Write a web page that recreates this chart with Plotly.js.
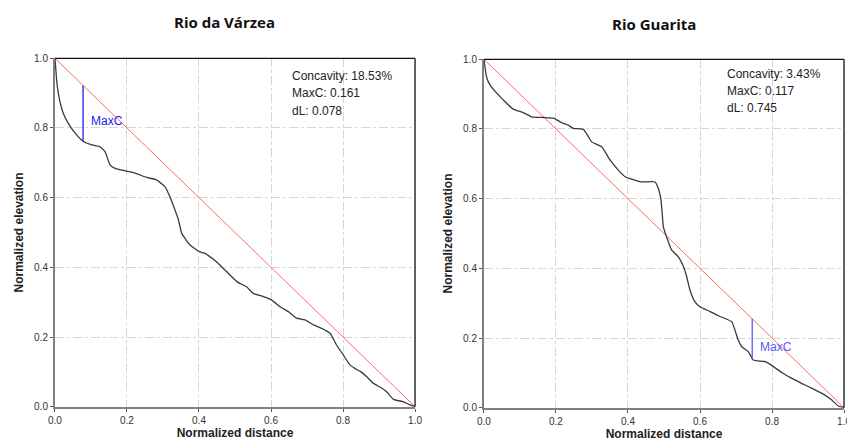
<!DOCTYPE html>
<html>
<head>
<meta charset="utf-8">
<script src="https://cdn.plot.ly/plotly-3.0.1.min.js"></script>
<style>html,body{margin:0;padding:0;background:#fff;}#chart{width:847px;height:441px;}</style>
</head>
<body>
<div id="chart"></div>
<script>
// Rio da Várzea profile (normalized distance / elevation)
const varzeaX = [0, 0.006, 0.014, 0.023, 0.037, 0.056, 0.079, 0.100, 0.125, 0.139, 0.153, 0.167, 0.190, 0.218, 0.255, 0.282, 0.306, 0.319, 0.333, 0.343, 0.352, 0.375, 0.401, 0.417, 0.440, 0.458, 0.481, 0.505, 0.532, 0.551, 0.579, 0.602, 0.625, 0.648, 0.671, 0.694, 0.718, 0.741, 0.764, 0.782, 0.801, 0.819, 0.833, 0.850, 0.866, 0.884, 0.905, 0.921, 0.940, 0.968, 0.986, 1.0];
const varzeaY = [1.0, 0.923, 0.875, 0.842, 0.813, 0.785, 0.761, 0.752, 0.746, 0.732, 0.694, 0.684, 0.678, 0.672, 0.658, 0.651, 0.631, 0.603, 0.565, 0.536, 0.498, 0.464, 0.445, 0.440, 0.423, 0.407, 0.383, 0.359, 0.344, 0.325, 0.316, 0.306, 0.287, 0.273, 0.254, 0.249, 0.235, 0.225, 0.211, 0.177, 0.148, 0.120, 0.110, 0.100, 0.086, 0.067, 0.055, 0.043, 0.021, 0.014, 0.005, 0.0];
// Rio Guarita profile
const guaritaX = [0, 0.007, 0.017, 0.040, 0.063, 0.081, 0.109, 0.132, 0.165, 0.193, 0.216, 0.234, 0.248, 0.276, 0.290, 0.299, 0.327, 0.350, 0.373, 0.392, 0.410, 0.438, 0.475, 0.484, 0.491, 0.495, 0.498, 0.507, 0.521, 0.540, 0.554, 0.563, 0.572, 0.586, 0.600, 0.628, 0.651, 0.688, 0.697, 0.706, 0.716, 0.734, 0.748, 0.781, 0.804, 0.827, 0.855, 0.882, 0.910, 0.947, 0.966, 0.984, 1.0];
const guaritaY = [1.0, 0.950, 0.926, 0.898, 0.874, 0.857, 0.847, 0.835, 0.833, 0.831, 0.818, 0.811, 0.802, 0.799, 0.778, 0.763, 0.749, 0.711, 0.682, 0.663, 0.656, 0.648, 0.648, 0.630, 0.601, 0.558, 0.520, 0.491, 0.453, 0.433, 0.405, 0.376, 0.338, 0.304, 0.290, 0.276, 0.264, 0.247, 0.223, 0.194, 0.175, 0.161, 0.137, 0.132, 0.118, 0.101, 0.084, 0.070, 0.056, 0.036, 0.022, 0.005, 0.0];
// Straight reference line
const refX = [0, 1];
const refY = [1, 0];
// Stats
const titles = ["Rio da Várzea", "Rio Guarita"];
const concavity = ["18.53%", "3.43%"];
const maxC = [0.161, 0.117];
const dL = [0.078, 0.745];
const tickVals = [0, 0.2, 0.4, 0.6, 0.8, 1.0];
const tickText = ["0.0", "0.2", "0.4", "0.6", "0.8", "1.0"];

const maxcColors = ["#1a1aee", "#5a5aff"];

const traces = [];
const profiles = [[varzeaX, varzeaY], [guaritaX, guaritaY]];
const axes = [["x", "y"], ["x2", "y2"]];
for (let i = 0; i < 2; i++) {
  traces.push({x: refX, y: refY, xaxis: axes[i][0], yaxis: axes[i][1], mode: "lines",
    line: {color: "#ff6a6a", width: 1}, hoverinfo: "skip", showlegend: false});
  traces.push({x: profiles[i][0], y: profiles[i][1], xaxis: axes[i][0], yaxis: axes[i][1], mode: "lines",
    line: {color: "#3a3a3a", width: 1.3, shape: "spline", smoothing: 0.4}, showlegend: false});
  const top = 1 - dL[i];
  traces.push({x: [dL[i], dL[i]], y: [top, top - maxC[i]], xaxis: axes[i][0], yaxis: axes[i][1], mode: "lines",
    line: {color: maxcColors[i], width: 1.3}, hoverinfo: "skip", showlegend: false});
}

const tickFont = {family: "Liberation Sans, Arial", size: 10, color: "#333"};
const titleFont = {family: "Liberation Sans, Arial", size: 12, color: "#222"};
function xax(domain, anchor) {
  return {domain: domain, anchor: anchor, range: [0, 1], tickvals: tickVals, ticktext: tickText,
    showline: true, linecolor: "#808080", linewidth: 2, mirror: false, zeroline: false,
    showgrid: true, gridcolor: "#d6d6d6", griddash: "dashdot", gridwidth: 1,
    ticks: "outside", ticklen: 3, tickcolor: "#555", tickfont: tickFont, ticklabeloverflow: "allow",
    title: {text: "<b>Normalized distance</b>", font: titleFont, standoff: 1},
    fixedrange: true};
}
function yax(domain, anchor) {
  return {domain: domain, anchor: anchor, range: [0, 1], tickvals: tickVals, ticktext: tickText,
    showline: true, linecolor: "#808080", linewidth: 2, mirror: false, zeroline: false,
    showgrid: true, gridcolor: "#d6d6d6", griddash: "dashdot", gridwidth: 1,
    ticks: "outside", ticklen: 3, tickcolor: "#555", tickfont: tickFont, ticklabeloverflow: "allow",
    title: {text: "<b>Normalized elevation</b>", font: titleFont, standoff: 8},
    fixedrange: true};
}

const annotations = [];
const statX = [0.653, 0.669];
const statY = [[0.949, 0.899, 0.850], [0.958, 0.909, 0.860]];
const maxcLabel = [[0.095, 0.82], [0.76, 0.175]];
const titlePos = [[0.2645, 0.950], [0.772, 0.945]];
for (let i = 0; i < 2; i++) {
  const xr = axes[i][0], yr = axes[i][1];
  const lines = ["Concavity: " + concavity[i], "MaxC: " + maxC[i].toFixed(3), "dL: " + dL[i].toFixed(3)];
  for (let k = 0; k < 3; k++) {
    annotations.push({xref: xr, yref: yr, x: statX[i], y: statY[i][k], xanchor: "left", yanchor: "middle",
      showarrow: false, text: lines[k], font: {family: "Liberation Sans, Arial", size: 12, color: "#222"}});
  }
  annotations.push({xref: xr, yref: yr, x: maxcLabel[i][0], y: maxcLabel[i][1], xanchor: "left", yanchor: "middle",
    showarrow: false, text: "MaxC", font: {family: "Liberation Sans, Arial", size: 12, color: maxcColors[i]}});
  annotations.push({xref: "paper", yref: "paper", x: titlePos[i][0], y: titlePos[i][1], xanchor: "center", yanchor: "middle",
    showarrow: false, text: "<b>" + titles[i] + "</b>", font: {family: "Open Sans, Noto Sans", size: 15, color: "#111"}});
}

const shapes = [];
for (let i = 0; i < 2; i++) {
  const xd = axes[i][0] + " domain", yd = axes[i][1] + " domain";
  shapes.push({type: "line", xref: xd, yref: yd, x0: 0, x1: 1, y0: 1, y1: 1, line: {color: "#111", width: 1.3}});
  shapes.push({type: "line", xref: xd, yref: yd, x0: 1, x1: 1, y0: 0, y1: 1, line: {color: "#111", width: 1.3}});
}

const layout = {
  width: 847, height: 441,
  margin: {l: 0, r: 0, t: 0, b: 0},
  paper_bgcolor: "#fff", plot_bgcolor: "#fff",
  showlegend: false,
  xaxis: xax([0.0649, 0.49], "y"),
  yaxis: yax([0.0778, 0.8678], "x"),
  xaxis2: xax([0.5714, 0.9965], "y2"),
  yaxis2: yax([0.0755, 0.8655], "x2"),
  annotations: annotations,
  shapes: shapes
};

Plotly.newPlot("chart", traces, layout, {displayModeBar: false, staticPlot: true});
</script>
</body>
</html>
